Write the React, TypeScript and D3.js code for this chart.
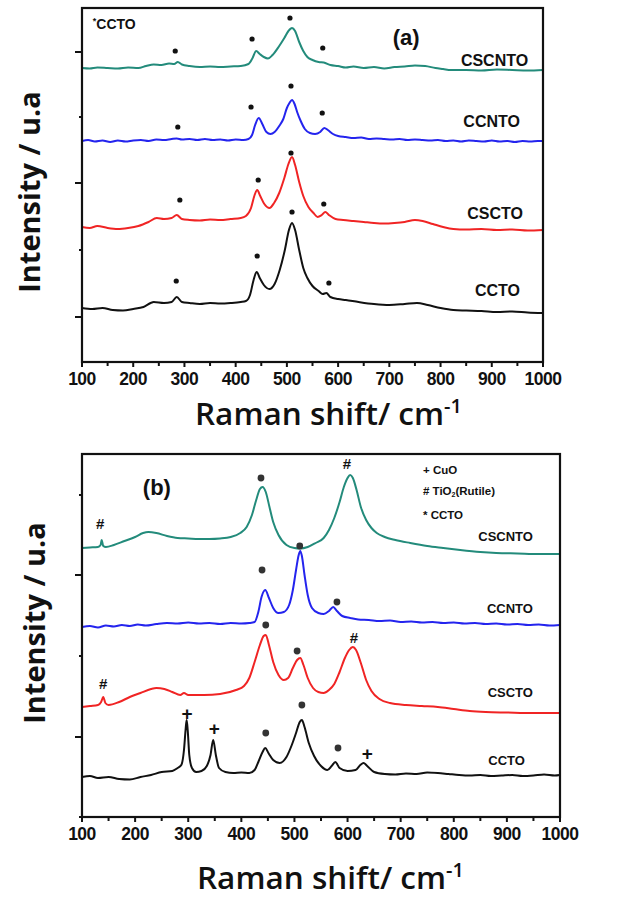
import React from 'react';
import * as d3 from 'd3';

type Pt = [number, number];

const SAMPLES = ['CSCNTO', 'CCNTO', 'CSCTO', 'CCTO'];
const COLORS = ['#238b7b', '#2424ee', '#f02424', '#111111'];
const X_TICKS = [100, 200, 300, 400, 500, 600, 700, 800, 900, 1000];
const X_MINOR = [150, 250, 350, 450, 550, 650, 750, 850, 950];

// ---------- Panel (a) ----------
const A_OFFSETS = [292, 221, 132, 49];
const A_YTICKS = [45, 112, 179, 245, 310];
const A_CSCNTO: Pt[] = [
  [100, 2], [115, 1.5], [130, 2.5], [150, 2], [170, 1.5], [190, 2.5], [210, 2], [225, 4], [240, 5.5], [255, 5],
  [270, 6.5], [280, 6], [287, 8], [295, 5.5], [310, 4], [330, 3], [350, 3.5], [370, 3], [390, 3.5], [410, 4],
  [425, 6], [433, 12], [440, 19], [447, 16], [455, 13], [463, 11.5], [472, 15], [485, 24], [495, 32], [503, 39],
  [510, 42], [516, 39], [524, 28], [532, 19], [540, 13], [550, 10], [562, 8], [572, 7.5], [585, 5], [600, 4],
  [615, 2.5], [630, 3.5], [650, 2], [670, 3], [690, 1.5], [710, 3], [730, 3.5], [750, 4.5], [770, 4], [790, 2],
  [805, 1], [820, 0], [850, 0], [880, -0.5], [910, 0.5], [940, 0], [970, -0.5], [1000, 0],
];
const A_CCNTO: Pt[] = [
  [100, 0], [112, 1], [125, -0.5], [140, 0.5], [155, -1], [170, 0.5], [185, -0.5], [200, 0.5], [215, 1], [230, 0],
  [245, 1.5], [260, 1], [275, 2], [285, 2.5], [295, 1.5], [310, 2], [325, 1], [340, 2], [355, 1], [370, 1.5],
  [385, 0.5], [400, 1.5], [415, 1], [425, 2], [432, 6], [438, 16], [445, 23], [452, 17], [460, 9], [468, 7],
  [476, 9], [485, 15], [493, 22], [500, 33], [505, 38], [510, 41], [515, 37], [520, 29], [527, 20], [535, 12],
  [545, 8], [555, 7], [565, 9], [573, 13], [580, 11], [590, 7], [600, 5], [615, 4], [630, 3], [645, 3.5],
  [660, 2], [675, 2.5], [690, 2], [705, 1.5], [720, 2], [735, 1], [750, 1.5], [765, 1], [780, 0.5], [795, 1],
  [810, 0], [825, 0.5], [840, -0.5], [855, 0.5], [870, 0], [885, -0.5], [900, 0.5], [915, -0.5], [930, 0], [945, -1],
  [960, 0], [975, -0.5], [990, 0], [1000, 0],
];
const A_CSCTO: Pt[] = [
  [100, 3], [115, 2], [130, 4], [150, 2], [170, 1], [190, 2], [210, 4], [230, 8], [246, 12], [260, 11],
  [275, 12], [285, 15], [295, 11], [310, 10], [330, 9.5], [350, 10.5], [370, 10], [390, 11], [410, 12], [420, 14],
  [430, 22], [437, 35], [442, 40], [448, 34], [456, 26], [466, 22], [475, 27], [485, 37], [495, 52], [503, 66],
  [510, 73], [516, 65], [524, 48], [532, 34], [542, 23], [552, 17], [560, 13], [568, 15], [575, 18], [582, 15],
  [595, 11], [610, 10], [630, 9], [650, 8], [670, 7], [690, 6.5], [710, 7], [730, 8], [750, 10], [765, 9],
  [785, 6], [805, 3], [825, 1], [850, 0.5], [880, 1], [910, 0], [940, 0.5], [970, -0.5], [1000, 0],
];
const A_CCTO: Pt[] = [
  [100, 5], [120, 4], [140, 5], [160, 3], [180, 2.5], [200, 4], [220, 6], [240, 11], [260, 10], [275, 11],
  [285, 16], [295, 11], [310, 10], [330, 9], [350, 10], [370, 9.5], [390, 10], [410, 11], [420, 12], [428, 18],
  [435, 33], [441, 41], [447, 35], [455, 28], [466, 24], [476, 29], [486, 43], [496, 63], [504, 83], [510, 90],
  [516, 83], [524, 63], [532, 45], [540, 35], [550, 27], [562, 22], [570, 19], [577, 20], [585, 16], [600, 14],
  [615, 13], [640, 11], [670, 9], [700, 8], [730, 9], [754, 10], [775, 8], [800, 5], [825, 3], [850, 2.5],
  [880, 2], [910, 1], [940, 1.5], [970, 0.5], [1000, 0],
];
// [series, shift, height above its baseline]
const A_MARKS: [number, number, number][] = [
  [0, 282, 19], [0, 432, 31], [0, 506, 52], [0, 570, 22],
  [1, 287, 14], [1, 430, 34], [1, 508, 55], [1, 569, 28],
  [2, 291, 30], [2, 444, 50], [2, 508, 77], [2, 572, 26],
  [3, 284, 32], [3, 442, 57], [3, 510, 101], [3, 582, 30],
];
// [shift at label end, height above baseline]
const A_LABELS: Pt[] = [[971, 10], [955, 20], [961, 17], [955, 23]];

// ---------- Panel (b) ----------
const B_OFFSETS = [263, 192, 104, 42];
const B_YTICKS = [0, 80, 161, 242, 322];
const B_CSCNTO: Pt[] = [
  [100, 6], [115, 6.5], [130, 7], [135, 9], [137, 14], [140, 8], [145, 7], [160, 9], [180, 13], [200, 17],
  [215, 21], [225, 22], [240, 21], [260, 18], [280, 16], [300, 15.5], [320, 15], [340, 15], [360, 15.5], [380, 17],
  [398, 21], [410, 27], [420, 39], [428, 54], [435, 65], [440, 67], [446, 62], [453, 47], [460, 32], [470, 19],
  [485, 9], [500, 6], [511, 5.5], [525, 7], [540, 11], [555, 16], [565, 24], [575, 36], [585, 52], [593, 67],
  [600, 76], [605, 79], [610, 76], [617, 64], [625, 47], [635, 34], [645, 26], [655, 21], [670, 17], [690, 14],
  [718, 11], [750, 8], [780, 6], [812, 4], [850, 2], [880, 1], [920, 0.5], [960, 0], [1000, 0],
];
const B_CCNTO: Pt[] = [
  [100, -2], [115, -1], [130, -2.5], [145, -0.5], [160, -1.5], [175, 0], [190, -1], [205, 0.5], [220, -0.5], [240, 1],
  [260, 2], [280, 1.5], [300, 2.5], [320, 1.5], [340, 2], [360, 1], [380, 2], [400, 1.5], [415, 2], [425, 3],
  [432, 13], [438, 28], [445, 35], [452, 27], [460, 17], [470, 12], [480, 13], [490, 20], [497, 35], [503, 55],
  [508, 70], [511, 74], [514, 69], [519, 50], [525, 30], [533, 17], [545, 12], [555, 11], [565, 14], [573, 18],
  [580, 14], [590, 9], [605, 7], [620, 5.5], [640, 5], [660, 4], [680, 4.5], [700, 3], [720, 3.5], [740, 2.5],
  [760, 3], [780, 2], [800, 2.5], [820, 1.5], [840, 2], [860, 1], [880, 1.5], [900, 0.5], [920, 1], [940, 0],
  [960, 0.5], [980, -0.5], [1000, 0],
];
const B_CSCTO: Pt[] = [
  [100, 6], [115, 7], [130, 8], [136, 11], [140, 16], [144, 10], [150, 8], [170, 11], [190, 16], [210, 20],
  [230, 24], [240, 25], [255, 24], [270, 21], [285, 18], [292, 20], [300, 18], [330, 18], [360, 19], [390, 23],
  [405, 27], [415, 35], [425, 51], [435, 68], [442, 77], [446, 78], [452, 68], [460, 51], [470, 38], [480, 33],
  [488, 35], [497, 45], [505, 53], [511, 55], [517, 48], [525, 35], [535, 25], [545, 21], [555, 20], [565, 23],
  [575, 29], [585, 41], [595, 55], [603, 63], [610, 66], [616, 63], [625, 50], [635, 33], [645, 22], [660, 14],
  [680, 10], [710, 8], [740, 7], [770, 6], [800, 4], [830, 2], [860, 1], [900, 0.5], [950, 0], [1000, 0],
];
const B_CCTO: Pt[] = [
  [100, -2], [115, -1], [130, -3], [150, -2], [170, -4], [190, -4.5], [210, -2], [230, 0], [250, 3], [270, 4],
  [280, 7], [287, 10], [292, 25], [295, 45], [297, 55], [299, 45], [302, 20], [307, 7], [315, 3], [325, 4],
  [335, 9], [342, 20], [347, 35], [352, 20], [358, 7], [370, 3], [385, 2], [400, 2.5], [415, 2], [425, 5],
  [432, 13], [440, 23], [445, 27], [451, 22], [460, 15], [472, 12], [485, 18], [495, 30], [503, 42], [510, 53],
  [514, 55], [519, 48], [527, 32], [537, 19], [550, 9], [562, 5], [570, 9], [577, 13], [585, 7], [600, 4],
  [615, 5], [624, 10], [630, 12], [637, 9], [650, 3], [670, 1], [690, 0.5], [710, 1.5], [730, 1], [750, 2.5],
  [770, 2], [790, 1], [810, 0], [830, -0.5], [850, 0], [870, -1], [890, -0.5], [910, 0], [930, -1], [950, -0.5],
  [970, 0.5], [990, -0.5], [1000, 0],
];
// [series, shift, height above baseline, symbol]
const B_MARKS: [number, number, number, string][] = [
  [0, 134, 31, '#'], [0, 437, 76, '•'], [0, 599, 91, '#'],
  [1, 439, 55, '•'], [1, 510, 79, '•'], [1, 580, 23, '•'],
  [2, 140, 30, '#'], [2, 446, 88, '•'], [2, 505, 62, '•'], [2, 612, 76, '#'],
  [3, 298, 62, '+'], [3, 349, 47, '+'], [3, 446, 42, '•'], [3, 514, 70, '•'], [3, 582, 27, '•'], [3, 637, 22, '+'],
];
const B_LABELS: Pt[] = [[949, 18], [949, 17], [949, 21], [934, 15]];
const B_LEGEND = ['+ CuO', '# TiO', '* CCTO'];

const SERIES_A = [A_CSCNTO, A_CCNTO, A_CSCTO, A_CCTO];
const SERIES_B = [B_CSCNTO, B_CCNTO, B_CSCTO, B_CCTO];

const FONT_BOLD = 'Liberation Sans, Arial, sans-serif';
const FONT_TITLE = 'Open Sans, Noto Sans, sans-serif';

function Axes({ x, y, top, bottom, left, right, yTicks, longFirst }: any) {
  return (
    <g>
      {X_TICKS.map((t) => (
        <g key={'xt' + t}>
          <line x1={x(t)} x2={x(t)} y1={bottom} y2={bottom + 5} stroke="#111" strokeWidth={2} />
          <text x={x(t)} y={bottom + 17} textAnchor="middle" dominantBaseline="central"
            fontFamily={FONT_BOLD} fontWeight="bold" fontSize={17.5} fill="#111" letterSpacing={-0.5}>{t}</text>
        </g>
      ))}
      {X_MINOR.map((t) => (
        <line key={'xm' + t} x1={x(t)} x2={x(t)} y1={bottom} y2={bottom + 4} stroke="#111" strokeWidth={2} />
      ))}
      {yTicks.map((t: number, i: number) => {
        const long = longFirst ? i % 2 === 0 : i % 2 === 1;
        return <line key={'yt' + t} x1={left - (long ? 7 : 3)} x2={left} y1={y(t)} y2={y(t)} stroke="#111" strokeWidth={2} />;
      })}
      <rect x={left} y={top} width={right - left} height={bottom - top} fill="none" stroke="#111" strokeWidth={2.2} />
    </g>
  );
}

export default function App() {
  // Panel (a)
  const axA = { left: 82, right: 543, top: 8, bottom: 362 };
  const xA = d3.scaleLinear().domain([100, 1000]).range([axA.left, axA.right]);
  const yA = d3.scaleLinear().domain([0, 354]).range([axA.bottom, axA.top]);
  // Panel (b)
  const axB = { left: 82, right: 560, top: 454, bottom: 817 };
  const xB = d3.scaleLinear().domain([100, 1000]).range([axB.left, axB.right]);
  const yB = d3.scaleLinear().domain([0, 363]).range([axB.bottom, axB.top]);

  const lineGen = (x: any, y: any, off: number) =>
    d3.line<Pt>().x((d) => x(d[0])).y((d) => y(d[1] + off)).curve(d3.curveMonotoneX);

  return (
    <svg width={619} height={900} style={{ position: 'absolute', left: 0, top: 0, background: '#fff' }}>
      <rect x={0} y={0} width={619} height={900} fill="#fff" />
      {/* ---- Panel (a) ---- */}
      {SERIES_A.map((s, i) => (
        <path key={'pa' + i} d={lineGen(xA, yA, A_OFFSETS[i])(s) || ''} fill="none" stroke={COLORS[i]} strokeWidth={2} />
      ))}
      {A_MARKS.map(([si, sh, h], k) => (
        <circle key={'ma' + k} cx={xA(sh)} cy={yA(A_OFFSETS[si] + h)} r={2.6} fill="#111" />
      ))}
      {A_LABELS.map(([sh, h], i) => (
        <text key={'la' + i} x={xA(sh)} y={yA(A_OFFSETS[i] + h)} textAnchor="end" dominantBaseline="central"
          fontFamily={FONT_BOLD} fontWeight="bold" fontSize={16} fill="#111">{SAMPLES[i]}</text>
      ))}
      <text x={xA(121)} y={yA(338)} dominantBaseline="central" fontFamily={FONT_BOLD} fontWeight="bold" fontSize={14} fill="#111">
        <tspan fontSize={9} dy={-3}>*</tspan><tspan dy={3}>CCTO</tspan>
      </text>
      <text x={xA(733)} y={yA(325)} textAnchor="middle" dominantBaseline="central" fontFamily={FONT_BOLD} fontWeight="bold" fontSize={22} fill="#111">(a)</text>
      <Axes x={xA} y={yA} {...axA} yTicks={A_YTICKS} longFirst={true} />
      <text x={195} y={425} fontFamily={FONT_TITLE} fontWeight={600} fontSize={31.5} fill="#111">
        Raman shift/ cm<tspan fontSize={20} dy={-12}>-1</tspan>
      </text>
      <text transform="translate(40,192) rotate(-90)" textAnchor="middle" fontFamily={FONT_TITLE} fontWeight="bold" fontSize={29} fill="#111">Intensity / u.a</text>

      {/* ---- Panel (b) ---- */}
      {SERIES_B.map((s, i) => (
        <path key={'pb' + i} d={lineGen(xB, yB, B_OFFSETS[i])(s) || ''} fill="none" stroke={COLORS[i]} strokeWidth={2} />
      ))}
      {B_MARKS.map(([si, sh, h, sym], k) =>
        sym === '•' ? (
          <circle key={'mb' + k} cx={xB(sh)} cy={yB(B_OFFSETS[si] + h)} r={3.4} fill="#333" />
        ) : (
          <text key={'mb' + k} x={xB(sh)} y={yB(B_OFFSETS[si] + h)} textAnchor="middle" dominantBaseline="central"
            fontFamily={FONT_BOLD} fontWeight="bold" fontSize={sym === '+' ? 19 : 15} fill="#111">{sym}</text>
        )
      )}
      {B_LABELS.map(([sh, h], i) => (
        <text key={'lb' + i} x={xB(sh)} y={yB(B_OFFSETS[i] + h)} textAnchor="end" dominantBaseline="central"
          fontFamily={FONT_BOLD} fontWeight="bold" fontSize={13} fill="#111">{SAMPLES[i]}</text>
      ))}
      <text x={xB(241)} y={yB(330)} textAnchor="middle" dominantBaseline="central" fontFamily={FONT_BOLD} fontWeight="bold" fontSize={22} fill="#111">(b)</text>
      <g fontFamily={FONT_BOLD} fontWeight="bold" fontSize={11.5} fill="#111">
        <text x={xB(742)} y={yB(347)} dominantBaseline="central">{B_LEGEND[0]}</text>
        <text x={xB(742)} y={yB(326)} dominantBaseline="central">{B_LEGEND[1]}<tspan fontSize={7} dy={3}>2</tspan><tspan dy={-3}>(Rutile)</tspan></text>
        <text x={xB(742)} y={yB(302)} dominantBaseline="central">{B_LEGEND[2]}</text>
      </g>
      <Axes x={xB} y={yB} {...axB} yTicks={B_YTICKS} longFirst={false} />
      <text x={197} y={889} fontFamily={FONT_TITLE} fontWeight={600} fontSize={31.5} fill="#111">
        Raman shift/ cm<tspan fontSize={20} dy={-12}>-1</tspan>
      </text>
      <text transform="translate(45,623) rotate(-90)" textAnchor="middle" fontFamily={FONT_TITLE} fontWeight="bold" fontSize={29} fill="#111">Intensity / u.a</text>
    </svg>
  );
}
